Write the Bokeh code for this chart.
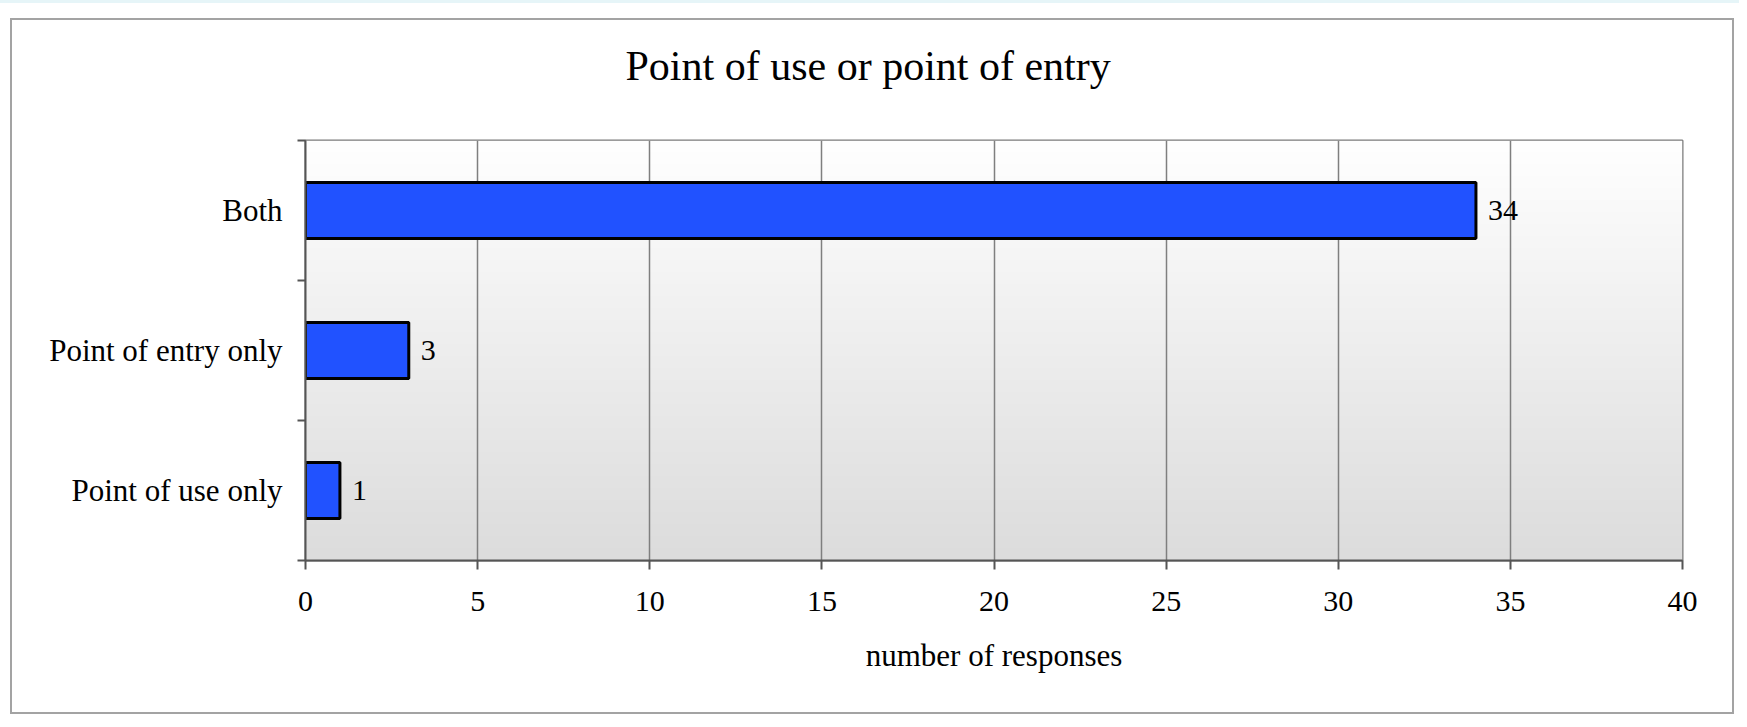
import numpy as np
from bokeh.plotting import figure
from bokeh.models import Range1d, FixedTicker, ColumnDataSource, Title
from bokeh.core.properties import value
from bokeh.embed import file_html
from bokeh.resources import INLINE

# data (bottom to top)
categories = ["Point of use only", "Point of entry only", "Both"]
responses = [1, 3, 34]
x_ticks = [0, 5, 10, 15, 20, 25, 30, 35, 40]
title_text = "Point of use or point of entry"
x_label = "number of responses"

FONT = "Liberation Serif"

p = figure(width=1739, height=719, output_backend="svg", toolbar_location=None,
           x_range=Range1d(0, 40), y_range=Range1d(0, len(categories)),
           min_border_left=305, min_border_right=57, min_border_top=140, min_border_bottom=159)

p.background_fill_color = "white"
p.border_fill_color = None
p.outline_line_color = "#7a7a7a"
p.outline_line_width = 2

# outer chart border (drawn behind the transparent canvas)
g_line = "linear-gradient(#a3a3a3,#a3a3a3)"
g_top = "linear-gradient(#e6f5f8,#e6f5f8)"
p.styles = {
    "background-color": "white",
    "background-image": ", ".join([g_line, g_line, g_line, g_line, g_top]),
    "background-position": "10px 18px, 10px 712px, 10px 18px, 1732px 18px, 0px 0px",
    "background-size": "1724px 2px, 1724px 2px, 2px 696px, 2px 696px, 1739px 3px",
    "background-repeat": "no-repeat",
}

# real title
p.title.text = title_text
p.title.text_font = FONT
p.title.text_font_size = "42px"
p.title.text_font_style = "normal"
p.title.text_color = "black"
p.title.align = "left"
p.title.offset = 320
p.title.standoff = 0

# spacer panel between title and plot area
spacer = Title(text=" ", text_font_size="10px", standoff=39)
p.add_layout(spacer, "above")

# background gradient of the plot area
n = 420
g = np.linspace(0xdc, 0xff, n).astype(np.uint32)
img = np.empty((n, 1), dtype=np.uint32)
img[:, 0] = (0xff << 24) | (g << 16) | (g << 8) | g
p.image_rgba(image=[img], x=0, y=0, dw=40, dh=len(categories), level="image")

ypos = [i + 0.5 for i in range(len(categories))]
src = ColumnDataSource(dict(y=ypos, v=responses, lab=[str(v) for v in responses], cat=categories))

p.hbar(y="y", right="v", left=0, height=0.4, source=src,
       fill_color="#2152ff", line_color="black", line_width=3)

p.text(x="v", y="y", text="lab", source=src, x_offset=12, text_baseline="middle",
       text_align="left", text_font=value(FONT), text_font_size="30px", text_color="black")

# x axis
xa = p.xaxis[0]
xa.ticker = FixedTicker(ticks=x_ticks)
xa.axis_label = x_label
xa.axis_label_text_font = FONT
xa.axis_label_text_font_size = "31px"
xa.axis_label_text_font_style = "normal"
xa.axis_label_text_color = "black"
xa.axis_label_standoff = 24
xa.major_label_text_font = FONT
xa.major_label_text_font_size = "30px"
xa.major_label_text_color = "black"
xa.major_label_standoff = 22
xa.major_tick_out = 9
xa.major_tick_in = 0
xa.minor_tick_line_color = None
xa.axis_line_color = "#555555"
xa.axis_line_width = 2
xa.major_tick_line_color = "#555555"
xa.major_tick_line_width = 2

# y axis: labels at centers, ticks at boundaries
ya = p.yaxis[0]
ya.ticker = FixedTicker(ticks=ypos, minor_ticks=list(range(len(categories) + 1)))
ya.major_label_overrides = {y: c for y, c in zip(ypos, categories)}
ya.major_label_text_font = FONT
ya.major_label_text_font_size = "31px"
ya.major_label_text_color = "black"
ya.major_label_standoff = 15
ya.major_tick_line_color = None
ya.major_tick_out = 0
ya.major_tick_in = 0
ya.minor_tick_line_color = "#555555"
ya.minor_tick_line_width = 2
ya.minor_tick_out = 8
ya.minor_tick_in = 0
ya.axis_line_color = "#555555"
ya.axis_line_width = 2

p.xgrid.ticker = FixedTicker(ticks=x_ticks)
p.xgrid.grid_line_color = "#7f7f7f"
p.xgrid.grid_line_width = 1.5
p.ygrid.grid_line_color = None

open("out.html", "w").write(file_html(p, INLINE))
